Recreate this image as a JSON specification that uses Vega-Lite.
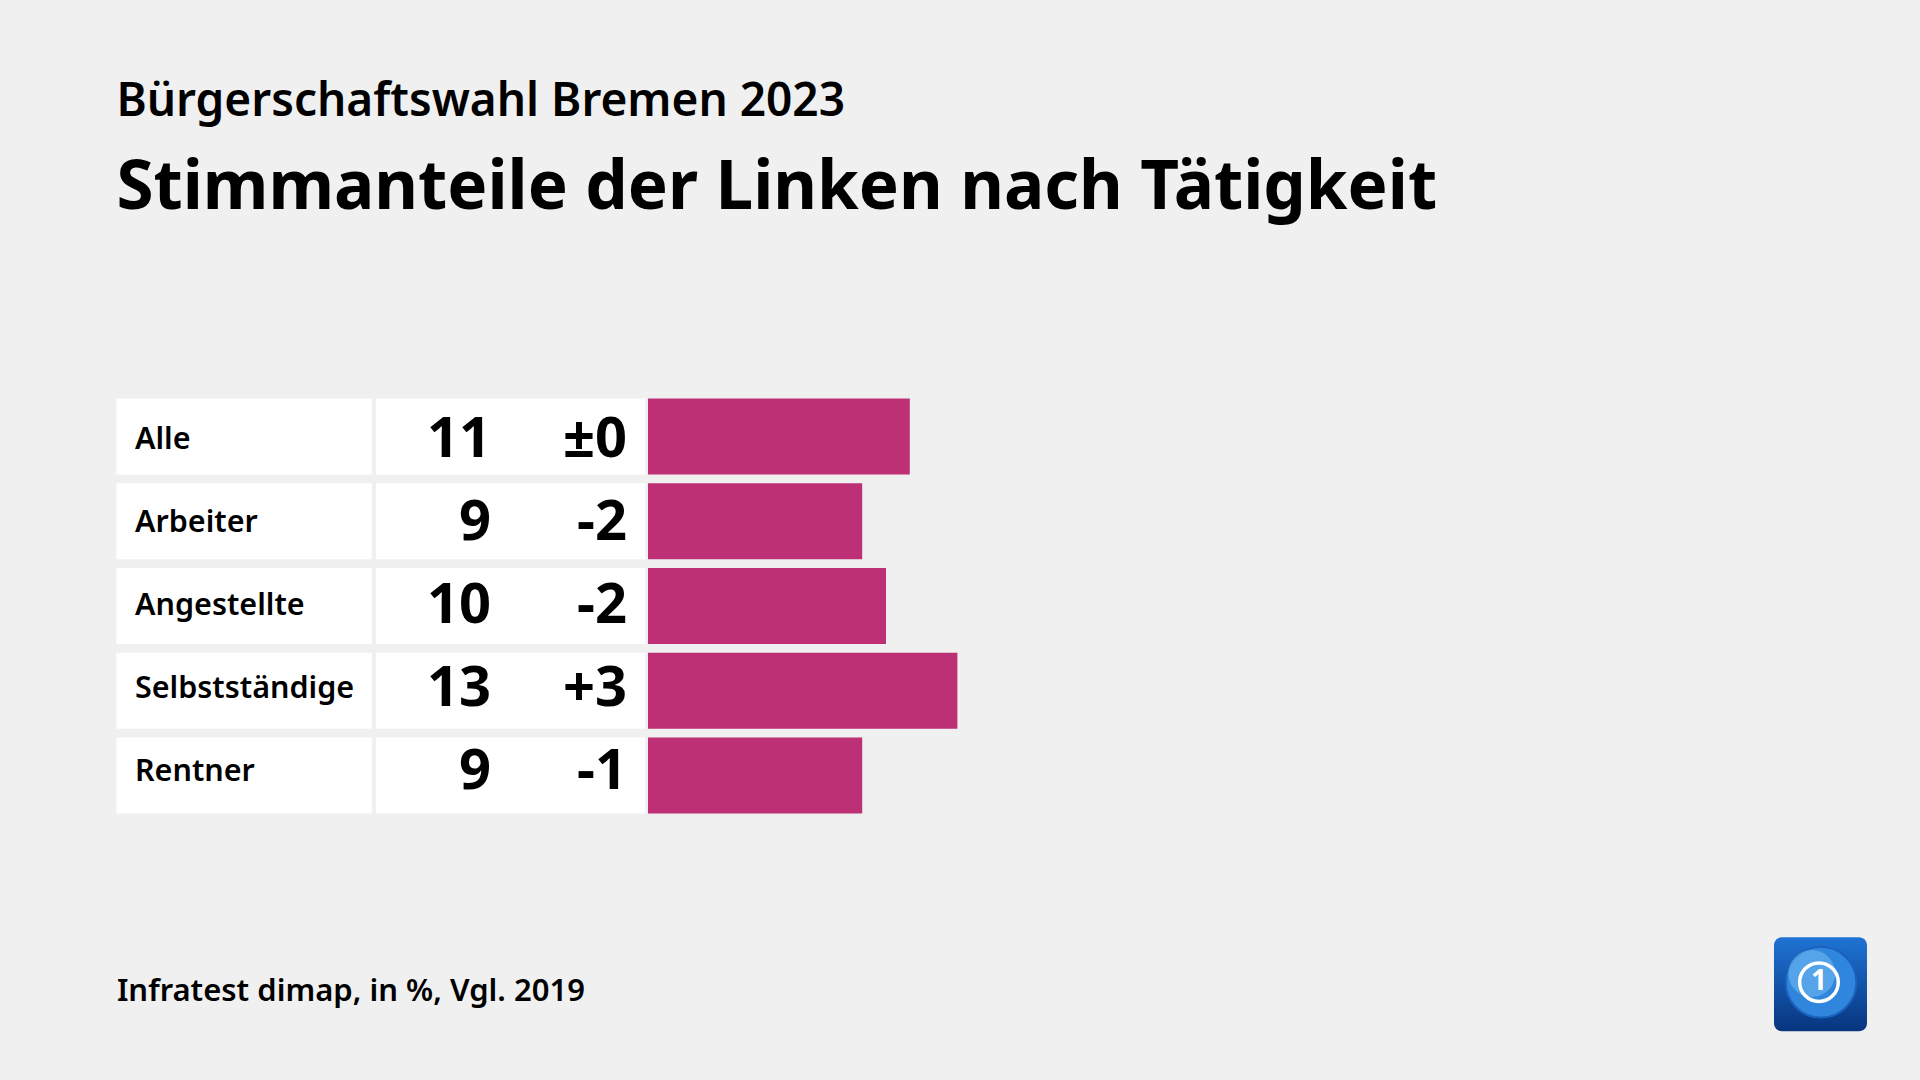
{
  "$schema": "https://vega.github.io/schema/vega-lite/v6.json",
  "background": "#f0f0f0",
  "padding": {"left": 116.4, "top": 78.5, "right": 30, "bottom": 52},
  "width": 1773.6,
  "height": 415,
  "title": {
    "text": "Bürgerschaftswahl Bremen 2023",
    "subtitle": "Stimmanteile der Linken nach Tätigkeit",
    "anchor": "start",
    "frame": "group",
    "font": "Noto Sans",
    "fontSize": 46,
    "fontWeight": 600,
    "color": "#000000",
    "subtitleFont": "Noto Sans",
    "subtitleFontSize": 67.3,
    "subtitleFontWeight": "bold",
    "subtitleColor": "#000000",
    "subtitlePadding": 29.5,
    "offset": 175.5
  },
  "data": {
    "values": [
      {"group": "Alle", "value": 11, "change": "±0"},
      {"group": "Arbeiter", "value": 9, "change": "-2"},
      {"group": "Angestellte", "value": 10, "change": "-2"},
      {"group": "Selbstständige", "value": 13, "change": "+3"},
      {"group": "Rentner", "value": 9, "change": "-1"}
    ]
  },
  "config": {
    "view": {"stroke": null},
    "axisX": {
      "domain": false, "ticks": false, "labels": false, "grid": false,
      "titleFont": "Noto Sans", "titleFontSize": 31, "titleFontWeight": 600, "titleColor": "#000000",
      "titleAnchor": "start", "titleAlign": "left", "titleBaseline": "alphabetic", "titleY": 186.7
    }
  },
  "resolve": {"scale": {"y": "independent"}},
  "layer": [
    {
      "mark": {"type": "rect", "color": "#ffffff"},
      "encoding": {
        "x": {"datum": -22.336, "type": "quantitative", "title": "Infratest dimap, in %, Vgl. 2019", "scale": {"domain": [-22.336, 52.185], "nice": false, "zero": false}},
        "x2": {"datum": -11.605},
        "y": {"field": "group", "type": "nominal", "sort": null, "axis": null, "scale": {"paddingInner": 0.1033, "paddingOuter": 0}}
      }
    },
    {
      "mark": {"type": "rect", "color": "#ffffff"},
      "encoding": {
        "x": {"datum": -11.429, "type": "quantitative", "title": "Infratest dimap, in %, Vgl. 2019"},
        "x2": {"datum": -0.113},
        "y": {"field": "group", "type": "nominal", "sort": null, "axis": null, "scale": {"paddingInner": 0.1033, "paddingOuter": 0}}
      }
    },
    {
      "mark": {"type": "rect", "color": "#bd3075"},
      "encoding": {
        "x": {"field": "value", "type": "quantitative", "title": "Infratest dimap, in %, Vgl. 2019"},
        "x2": {"datum": 0},
        "y": {"field": "group", "type": "nominal", "sort": null, "axis": null, "scale": {"paddingInner": 0.1033, "paddingOuter": 0}}
      }
    },
    {
      "mark": {"type": "text", "align": "left", "baseline": "middle", "font": "Noto Sans", "fontSize": 30.5, "fontWeight": 600, "color": "#000000"},
      "encoding": {
        "x": {"datum": -21.555, "type": "quantitative", "title": "Infratest dimap, in %, Vgl. 2019"},
        "y": {"field": "group", "type": "nominal", "sort": null, "axis": null, "scale": {"paddingInner": 0.1033, "paddingOuter": 0}},
        "text": {"field": "group"}
      }
    },
    {
      "mark": {"type": "text", "align": "right", "baseline": "middle", "font": "Noto Sans", "fontSize": 56, "fontWeight": "bold", "color": "#000000"},
      "encoding": {
        "x": {"datum": -6.597, "type": "quantitative", "title": "Infratest dimap, in %, Vgl. 2019"},
        "y": {"field": "group", "type": "nominal", "sort": null, "axis": null, "scale": {"paddingInner": 0.1033, "paddingOuter": 0}},
        "text": {"field": "value"}
      }
    },
    {
      "mark": {"type": "text", "align": "right", "baseline": "middle", "font": "Noto Sans", "fontSize": 56, "fontWeight": "bold", "color": "#000000"},
      "encoding": {
        "x": {"datum": -0.882, "type": "quantitative", "title": "Infratest dimap, in %, Vgl. 2019"},
        "y": {"field": "group", "type": "nominal", "sort": null, "axis": null, "scale": {"paddingInner": 0.1033, "paddingOuter": 0}},
        "text": {"field": "change"}
      }
    },
    {
      "data": {"values": [{"logo": "ARD"}]},
      "layer": [
        {
          "mark": {"type": "rect", "cornerRadius": 8, "fill": {"gradient": "linear", "x1": 0, "y1": 0, "x2": 0, "y2": 1, "stops": [{"offset": 0, "color": "#1f73d4"}, {"offset": 1, "color": "#07357f"}]}},
          "encoding": {
            "x": {"datum": 47.311, "type": "quantitative", "title": "Infratest dimap, in %, Vgl. 2019"},
            "x2": {"datum": 51.218},
            "y": {"datum": 538.7, "type": "quantitative", "axis": null, "scale": {"domain": [0, 415], "reverse": true, "nice": false, "zero": false}},
            "y2": {"datum": 632.7}
          }
        },
        {
          "mark": {"type": "point", "shape": "circle", "filled": true, "size": 5000, "opacity": 1, "fill": "#2f86dc", "stroke": "#1b62bf", "strokeWidth": 2},
          "encoding": {
            "x": {"datum": 49.286, "type": "quantitative", "title": "Infratest dimap, in %, Vgl. 2019"},
            "y": {"datum": 583.7, "type": "quantitative", "axis": null, "scale": {"domain": [0, 415], "reverse": true, "nice": false, "zero": false}}
          }
        },
        {
          "mark": {"type": "point", "shape": "circle", "filled": true, "size": 2200, "opacity": 0.5, "fill": "#7cc2f5"},
          "encoding": {
            "x": {"datum": 48.9, "type": "quantitative", "title": "Infratest dimap, in %, Vgl. 2019"},
            "y": {"datum": 575, "type": "quantitative", "axis": null, "scale": {"domain": [0, 415], "reverse": true, "nice": false, "zero": false}}
          }
        },
        {
          "mark": {"type": "point", "shape": "circle", "filled": false, "size": 1490, "stroke": "#ffffff", "strokeWidth": 3.5, "opacity": 1},
          "encoding": {
            "x": {"datum": 49.2, "type": "quantitative", "title": "Infratest dimap, in %, Vgl. 2019"},
            "y": {"datum": 583.7, "type": "quantitative", "axis": null, "scale": {"domain": [0, 415], "reverse": true, "nice": false, "zero": false}}
          }
        },
        {
          "mark": {"type": "text", "align": "center", "baseline": "middle", "font": "Noto Sans", "fontSize": 28, "fontWeight": "bold", "color": "#ffffff"},
          "encoding": {
            "x": {"datum": 49.2, "type": "quantitative", "title": "Infratest dimap, in %, Vgl. 2019"},
            "y": {"datum": 583.7, "type": "quantitative", "axis": null, "scale": {"domain": [0, 415], "reverse": true, "nice": false, "zero": false}},
            "text": {"value": "1"}
          }
        }
      ]
    }
  ]
}
